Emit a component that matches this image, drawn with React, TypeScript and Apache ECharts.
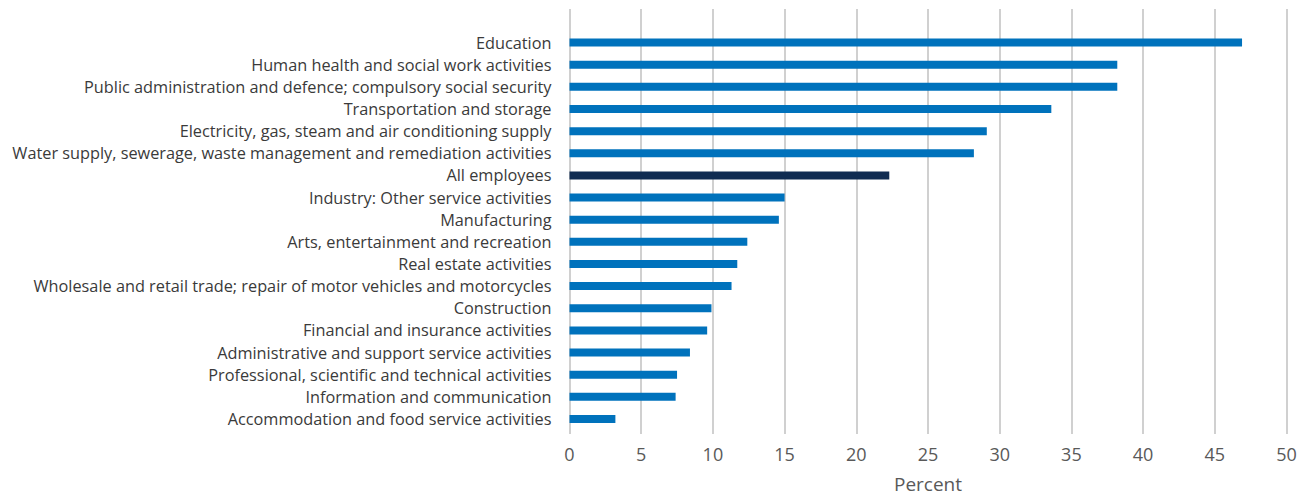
import React, { useEffect, useRef } from "react";
import * as echarts from "echarts";

const categories = [
  "Education",
  "Human health and social work activities",
  "Public administration and defence; compulsory social security",
  "Transportation and storage",
  "Electricity, gas, steam and air conditioning supply",
  "Water supply, sewerage, waste management and remediation activities",
  "All employees",
  "Industry: Other service activities",
  "Manufacturing",
  "Arts, entertainment and recreation",
  "Real estate activities",
  "Wholesale and retail trade; repair of motor vehicles and motorcycles",
  "Construction",
  "Financial and insurance activities",
  "Administrative and support service activities",
  "Professional, scientific and technical activities",
  "Information and communication",
  "Accommodation and food service activities",
];

const values = [46.9, 38.2, 38.2, 33.6, 29.1, 28.2, 22.3, 15.0, 14.6, 12.4, 11.7, 11.3, 9.9, 9.6, 8.4, 7.5, 7.4, 3.2];

const highlight = "All employees";
const xMin = 0;
const xMax = 50;
const xStep = 5;
const xName = "Percent";

export default function App() {
  const ref = useRef<HTMLDivElement>(null);
  useEffect(() => {
    if (!ref.current) return;
    const chart = echarts.init(ref.current, undefined, { renderer: "svg" });
    const font = "'Open Sans', sans-serif";
    chart.setOption({
      animation: false,
      backgroundColor: "#ffffff",
      grid: [
        { left: 569.5, right: 16.5, top: 9, bottom: 64, containLabel: false },
        { left: 569.5, right: 16.5, top: 31.5, bottom: 64, containLabel: false },
      ],
      xAxis: [
        {
          gridIndex: 0,
          type: "value",
          min: xMin,
          max: xMax,
          interval: xStep,
          axisLine: { show: false },
          axisTick: { show: false },
          axisLabel: { show: false },
          splitLine: { show: true, lineStyle: { color: "#d0d0d0", width: 2 } },
        },
        {
          gridIndex: 1,
          type: "value",
          min: xMin,
          max: xMax,
          interval: xStep,
          axisLine: { show: false },
          axisTick: { show: false },
          splitLine: { show: false },
          axisLabel: { color: "#595959", fontSize: 18, fontFamily: font, margin: 15 },
          name: xName,
          nameLocation: "middle",
          nameGap: 44,
          nameTextStyle: { color: "#595959", fontSize: 19, fontFamily: font },
        },
      ],
      yAxis: [
        { gridIndex: 0, type: "value", min: 0, max: 1, show: false },
        {
          gridIndex: 1,
          type: "category",
          data: categories,
          inverse: true,
          axisLine: { show: false },
          axisTick: { show: false },
          splitLine: { show: false },
          axisLabel: { color: "#3a3a3a", fontSize: 16.3, fontFamily: font, margin: 18 },
        },
      ],
      series: [
        {
          type: "bar",
          xAxisIndex: 1,
          yAxisIndex: 1,
          barWidth: 8,
          data: values.map((v, i) => ({
            value: v,
            itemStyle: { color: categories[i] === highlight ? "#102c52" : "#0072bc" },
          })),
        },
      ],
    });
    return () => chart.dispose();
  }, []);
  return (
    <div
      ref={ref}
      style={{ position: "fixed", left: 0, top: 0, width: 1303, height: 498, background: "#fff" }}
    />
  );
}
